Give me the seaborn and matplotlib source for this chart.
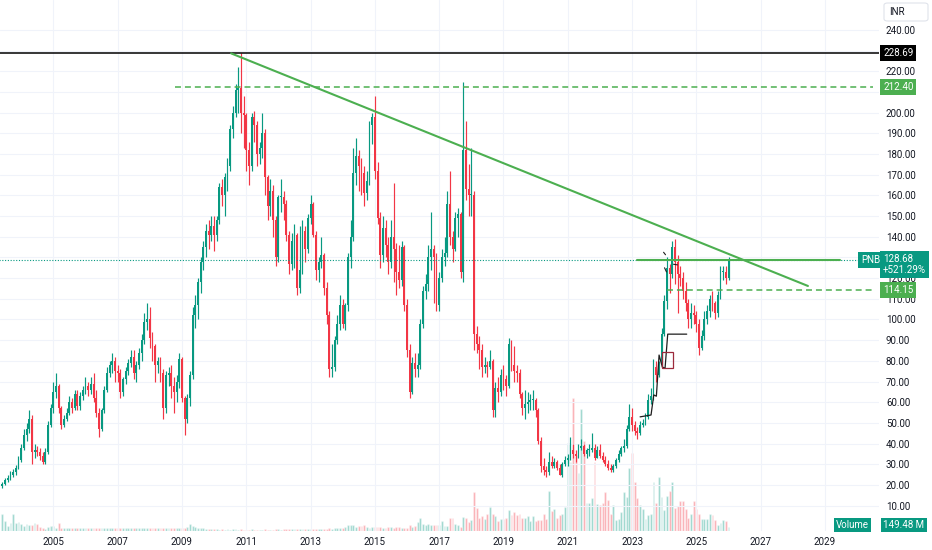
import numpy as np
import pandas as pd
import matplotlib
matplotlib.use("Agg")
import matplotlib.pyplot as plt
import matplotlib.transforms as mtransforms
from matplotlib.patches import Rectangle, FancyBboxPatch
import seaborn as sns

# PNB monthly candles, Jun 2003 .. Jan 2026
start_year, start_month = 2003, 6
first_open = 19.5

close = [
    20.5, 22.5, 23.5, 25, 26, 28, 32,                                   # 2003
    38, 44, 47, 52, 36, 37, 36, 34, 31, 36, 49, 57,                     # 2004
    65, 68, 57, 49, 52, 55, 60, 57, 64, 58, 63, 66,                     # 2005
    68, 66, 69, 62, 55, 47, 56, 66, 74, 78, 80, 75,                     # 2006
    74, 65, 71, 75, 79, 82, 74, 78, 84, 90, 99, 100,                    # 2007
    91, 87, 78, 80, 74, 57, 73, 74, 68, 65, 70, 81,                     # 2008
    62, 52, 62, 73, 102, 107, 118, 128, 135, 143, 141, 145,             # 2009
    141, 148, 164, 160, 169, 174, 192, 200, 211, 212, 200, 199,         # 2010
    182, 174, 198, 194, 180, 183, 190, 169, 155, 162, 148, 130,         # 2011
    159, 159, 156, 141, 127, 138, 141, 115, 124, 143, 134, 149,         # 2012
    156, 141, 124, 128, 131, 115, 102, 76, 77, 90, 98, 107,             # 2013
    98, 107, 130, 140, 171, 179, 174, 171, 161, 167, 194, 198,          # 2014
    172, 149, 131, 144, 136, 128, 140, 134, 123, 119, 135, 107,         # 2015
    85, 65, 79, 76, 78, 98, 114, 117, 130, 134, 130, 107,               # 2016
    120, 130, 132, 156, 140, 134, 149, 151, 123, 182, 163, 160,         # 2017
    160, 93, 88, 85, 77, 78, 77, 80, 56, 67, 65, 73,                    # 2018
    71, 68, 88, 78, 75, 74, 64, 57, 59, 60, 61, 61,                     # 2019
    56, 41, 29, 27, 26, 31, 29, 31, 28, 25, 30, 32,                     # 2020
    33, 37, 35, 34, 38, 39, 35, 37, 37, 38, 33, 37,                     # 2021
    34, 32, 30, 28, 27, 29, 32, 35, 38, 39, 47, 53,                     # 2022
    49, 46, 45, 49, 50, 53, 61, 63, 77, 73, 78, 93,                     # 2023
    109, 125, 122, 135, 128, 122, 120, 114, 108, 100, 103, 102,         # 2024
    98, 86, 92, 100, 104, 110, 108, 103, 112, 123, 123, 120,            # 2025
    128.68,                                                             # 2026
]

high = [
    21.5, 23.5, 25, 26.5, 27.5, 29.5, 34,
    40, 47, 50, 56, 54, 40, 39, 38, 36, 38, 51, 59,
    70, 74, 69, 58, 54, 57, 63, 62, 66, 66, 65, 68,
    72, 70, 72, 74, 66, 57, 57, 68, 77, 80, 84, 82,
    78, 76, 72, 77, 81, 85, 85, 80, 86, 93, 103, 108,
    106, 94, 88, 82, 82, 76, 75, 77, 78, 72, 73, 84,
    82, 63, 64, 75, 106, 112, 120, 130, 138, 146, 148, 150,
    150, 150, 166, 168, 171, 178, 194, 203, 214, 222, 229, 208,
    200, 186, 200, 201, 196, 186, 200, 192, 170, 168, 165, 150,
    160, 168, 162, 158, 143, 142, 146, 142, 145, 148, 145, 151,
    160, 157, 143, 130, 140, 132, 118, 104, 88, 92, 102, 112,
    110, 108, 132, 148, 183, 188, 182, 178, 174, 172, 196, 200,
    208, 176, 152, 150, 148, 140, 148, 166, 137, 136, 138, 136,
    110, 88, 82, 84, 84, 100, 116, 122, 136, 152, 136, 132,
    123, 134, 140, 162, 172, 143, 152, 154, 152, 215, 196, 175,
    183, 162, 97, 92, 88, 82, 80, 85, 81, 70, 72, 76,
    78, 73, 91, 90, 87, 78, 76, 65, 66, 65, 64, 66,
    62, 57, 43, 33, 29, 36, 34, 33, 32, 30, 31, 34,
    35, 43, 40, 37, 40, 42, 40, 38, 40, 45, 40, 39,
    40, 36, 34, 32, 30, 30, 33, 37, 39, 42, 49, 59,
    57, 51, 48, 51, 52, 55, 64, 67, 81, 80, 80, 96,
    112, 130, 127, 138, 139, 131, 126, 123, 118, 110, 108, 107,
    104, 100, 95, 104, 107, 112, 114, 109, 114, 126, 126, 126,
    130,
]

low = [
    18.5, 20, 21.5, 22.5, 24, 25, 27.5,
    31, 37, 41, 45, 30, 33, 34, 32, 30, 30, 35, 48,
    55, 62, 55, 47, 48, 51, 54, 55, 56, 56, 56, 61,
    64, 63, 64, 60, 53, 43, 46, 55, 65, 72, 74, 70,
    70, 62, 63, 69, 73, 77, 71, 70, 76, 80, 88, 95,
    86, 80, 70, 74, 70, 52, 55, 68, 62, 55, 60, 67,
    60, 44, 50, 58, 71, 96, 100, 113, 124, 130, 134, 138,
    133, 138, 146, 155, 150, 162, 172, 188, 198, 200, 190, 183,
    172, 165, 172, 186, 174, 175, 178, 160, 148, 150, 140, 126,
    128, 152, 148, 138, 122, 124, 125, 112, 113, 122, 128, 132,
    146, 140, 119, 118, 125, 112, 98, 72, 72, 75, 88, 95,
    96, 95, 104, 125, 138, 165, 162, 160, 155, 158, 165, 185,
    168, 146, 125, 128, 130, 122, 125, 118, 112, 115, 116, 104,
    82, 62, 64, 72, 72, 76, 96, 110, 114, 124, 108, 104,
    104, 118, 126, 130, 136, 128, 133, 140, 120, 118, 158, 150,
    150, 85, 84, 76, 72, 74, 72, 76, 53, 53, 60, 63,
    66, 63, 67, 75, 70, 70, 62, 54, 52, 55, 56, 56,
    53, 40, 26, 25, 24, 25, 28, 28, 27, 25, 24, 29,
    29, 32, 33, 31, 33, 37, 34, 33, 34, 36, 32, 33,
    33, 31, 29, 27, 26, 26, 28, 31, 34, 36, 38, 46,
    46, 44, 42, 44, 48, 49, 52, 59, 61, 70, 72, 77,
    92, 105, 113, 120, 117, 103, 116, 110, 104, 96, 96, 98,
    94, 83, 85, 90, 98, 101, 104, 100, 101, 110, 119, 117,
    119,
]

# volume in millions of shares
volume = [
    620, 370, 175, 300, 620, 310, 335,
    270, 185, 270, 210, 235, 310, 270, 150, 120, 85, 150, 175,
    185, 120, 310, 120, 110, 110, 110, 95, 110, 95, 95, 110,
    100, 110, 95, 110, 95, 120, 100, 95, 110, 95, 100, 110,
    95, 100, 95, 110, 100, 95, 110, 100, 110, 120, 110, 115,
    120, 110, 110, 100, 110, 120, 110, 115, 110, 120, 110, 120,
    120, 125, 150, 270, 185, 150, 120, 110, 95, 90, 75, 75,
    65, 60, 55, 60, 55, 60, 55, 60, 65, 55, 60, 55,
    55, 50, 60, 55, 55, 50, 55, 60, 55, 50, 55, 60,
    60, 55, 60, 65, 60, 70, 65, 70, 75, 70, 75, 70,
    75, 70, 80, 75, 80, 90, 85, 95, 80, 95, 110, 120,
    120, 150, 210, 210, 210, 150, 185, 185, 210, 150, 120, 150,
    150, 150, 150, 120, 120, 150, 150, 120, 150, 150, 120, 120,
    120, 235, 150, 185, 335, 490, 270, 220, 270, 205, 220, 205,
    205, 360, 185, 185, 490, 490, 260, 210, 150, 520, 490, 335,
    420, 1440, 860, 490, 545, 455, 620, 890, 620, 565, 370, 445,
    455, 490, 765, 580, 680, 580, 640, 490, 470, 545, 370, 545,
    370, 395, 395, 620, 455, 1480, 740, 790, 490, 580, 620, 890,
    3220, 2550, 4880, 2800, 2110, 4470, 3290, 1010, 1010, 1195, 2550, 990,
    950, 1010, 1440, 1135, 640, 950, 395, 455, 700, 1440, 1260, 2305,
    2860, 1810, 1195, 950, 825, 455, 580, 640, 1810, 1010, 1970, 1230,
    765, 1285, 1470, 1810, 860, 915, 1110, 1110, 790, 490, 620, 1110,
    825, 620, 455, 455, 455, 620, 580, 420, 210, 305, 420, 370,
    149.48,
]

# drawn levels / trendlines
ath_level = 228.69
resist_level = 212.40
support_level = 114.15
neck_level = 129.0
last_price = 128.68
trend_t = [2010.53, 2028.47]
trend_p = [228.69, 116.2]
wave_t = [2023.25, 2023.59, 2023.675, 2023.756, 2023.84, 2023.942, 2024.026, 2024.109, 2024.70]
wave_p = [52.9, 53.8, 63.5, 62.9, 82.8, 77.0, 76.4, 92.9, 92.9]
year_ticks = list(range(2005, 2030, 2))
price_ticks = list(range(10, 250, 10))
hidden_ticks = [130, 210, 230]   # covered by the price tags

UP, DOWN = "#089981", "#f23645"
GREEN = "#4caf50"
TXT = "#131722"

n = len(close)
t = start_year + (np.arange(n) + start_month - 1) / 12.0
opens = [first_open] + close[:-1]
df = pd.DataFrame({"t": t, "open": opens, "high": high, "low": low,
                   "close": close, "volume": volume})
df["high"] = df[["high", "open", "close"]].max(axis=1)
df["low"] = df[["low", "open", "close"]].min(axis=1)
df["dir"] = np.where(df["close"] >= df["open"], "up", "down")

sns.set_theme(style="white")
plt.rcParams["font.family"] = ["Roboto", "DejaVu Sans"]

fig = plt.figure(figsize=(9.32, 5.5), dpi=100)
fig.patch.set_facecolor("white")
ax = fig.add_axes([0, 19 / 550, 879 / 932, 531 / 550])
ax2 = ax.twinx()
ax.set_zorder(ax2.get_zorder() + 1)
ax.patch.set_visible(False)

# volume pane
sns.barplot(data=df, x="t", y="volume", hue="dir", palette={"up": UP, "down": DOWN},
            native_scale=True, dodge=False, width=0.7, alpha=0.45, saturation=1,
            errorbar=None, legend=False, ax=ax2)
ax2.set_ylim(0, 4880 * 531 / 133)
ax2.set_yticks([])
ax2.set_ylabel("")
ax2.set_xlabel("")
for s in ax2.spines.values():
    s.set_visible(False)

# candles
colors = np.where(df["dir"] == "up", UP, DOWN)
ax.vlines(df["t"], df["low"], df["high"], colors=colors, lw=0.85, zorder=3)
body_lo = np.minimum(df["open"], df["close"])
body_h = np.maximum((df["close"] - df["open"]).abs(), 0.5)
ax.bar(df["t"], body_h, bottom=body_lo, width=0.7 / 12, color=colors, lw=0, zorder=4)

# drawings
ax.axhline(ath_level, color="black", lw=1.1, zorder=5)
ax.plot([2008.79, 2030.5], [resist_level] * 2, color=GREEN, lw=1.1, dashes=(3.9, 2.6), zorder=5)
ax.plot([2024.08, 2030.5], [support_level] * 2, color=GREEN, lw=1.1, dashes=(3.9, 2.6), zorder=5)
ax.plot([2003.3, 2030.1], [last_price] * 2, color=UP, lw=0.8, ls=(0, (1, 1.5)), zorder=5)
ax.plot([2023.15, 2029.48], [neck_level] * 2, color=GREEN, lw=1.5, zorder=6)
ax.plot(trend_t, trend_p, color=GREEN, lw=1.5, zorder=6)
ax.plot(wave_t, wave_p, color="#1e1e1e", lw=0.9, zorder=7)
ax.add_patch(Rectangle((2023.92, 76.4), 0.35, 7.7, fill=False, ec="#9c2a3c", lw=0.9, zorder=7))
for (t0, t1, p0, p1) in [(2023.98, 2024.04, 132.5, 131.3),
                         (2024.01, 2024.07, 125.0, 123.0),
                         (2024.29, 2024.41, 126.7, 126.4)]:
    ax.plot([t0, t1], [p0, p1], color="#1e1e1e", lw=0.8, zorder=7)

# axes styling
ax.set_xlim(2003.342, 2030.68)
ax.set_ylim(-2.3, 254.5)
ax.set_xticks(year_ticks)
ax.set_xticklabels([str(y) for y in year_ticks])
ax.set_yticks(price_ticks)
ax.set_yticklabels(["" if p in hidden_ticks else f"{p:.2f}" for p in price_ticks])
ax.yaxis.tick_right()
ax.tick_params(axis="y", length=0, pad=5, labelsize=7, labelcolor=TXT)
ax.tick_params(axis="x", length=0, pad=4, labelsize=7, labelcolor=TXT)
ax.grid(True, color="#f0f3fa", lw=0.8)
ax.set_axisbelow(True)
for s in ax.spines.values():
    s.set_visible(False)
ax.set_xlabel("")
ax.set_ylabel("")

# price tags on the right axis
trans = mtransforms.blended_transform_factory(ax.transAxes, ax.transData)
tag_x = 1 + 4 / 879


def price_tag(y, s, fc):
    ax.text(tag_x, y, s, transform=trans, ha="left", va="center", fontsize=7,
            color="white", bbox=dict(boxstyle="square,pad=0.3", fc=fc, ec="none"),
            zorder=20, clip_on=False)


price_tag(ath_level, "228.69", "#000000")
price_tag(resist_level, "212.40", GREEN)
price_tag(support_level, "114.15", GREEN)
ax.text(tag_x, 126.4, "128.68\n+521.29%", transform=trans, ha="left", va="center",
        fontsize=7, color="white", linespacing=1.15,
        bbox=dict(boxstyle="square,pad=0.3", fc=UP, ec="none"), zorder=20, clip_on=False)
ax.text(861 / 879, last_price, "PNB", transform=trans, ha="left", va="center",
        fontsize=7, color="white", bbox=dict(boxstyle="square,pad=0.3", fc=UP, ec="none"),
        zorder=20, clip_on=False)
ax.text(869 / 879, 6 / 531, "Volume", transform=ax.transAxes, ha="right", va="center",
        fontsize=7, color="white", bbox=dict(boxstyle="square,pad=0.25", fc=UP, ec="none"),
        zorder=20, clip_on=False)
ax.text(tag_x, 6 / 531, "149.48 M", transform=ax.transAxes, ha="left", va="center",
        fontsize=7, color="white", bbox=dict(boxstyle="square,pad=0.25", fc=UP, ec="none"),
        zorder=20, clip_on=False)

# currency box
fig.patches.append(FancyBboxPatch((884 / 932, 1 - 21 / 550), 44 / 932, 18 / 550,
                                  boxstyle="round,pad=0,rounding_size=0.004",
                                  transform=fig.transFigure, fc="white", ec="#e0e3eb", lw=0.8))
fig.text(889 / 932, 1 - 12 / 550, "INR", ha="left", va="center", fontsize=7, color=TXT)

fig.savefig("out.png", dpi=100, facecolor="white")
